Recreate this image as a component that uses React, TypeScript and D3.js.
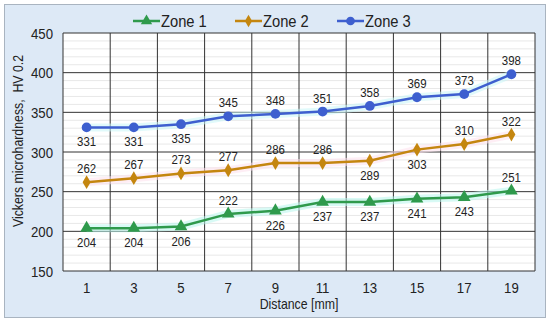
import React from 'react';
import * as d3 from 'd3';

const distances = [1, 3, 5, 7, 9, 11, 13, 15, 17, 19];
const zone1 = [204, 204, 206, 222, 226, 237, 237, 241, 243, 251];
const zone2 = [262, 267, 273, 277, 286, 286, 289, 303, 310, 322];
const zone3 = [331, 331, 335, 345, 348, 351, 358, 369, 373, 398];
// label position: 1 = above the point, -1 = below
const zone1Pos = [-1, -1, -1, 1, -1, -1, -1, -1, -1, 1];
const zone2Pos = [1, 1, 1, 1, 1, 1, -1, -1, 1, 1];
const zone3Pos = [-1, -1, -1, 1, 1, 1, 1, 1, 1, 1];
const yTicks = [150, 200, 250, 300, 350, 400, 450];

const W = 550;
const H = 324;
const M = { left: 63, right: 15, top: 33, bottom: 53 };

const series = [
  { name: 'Zone 1', values: zone1, pos: zone1Pos, color: '#2f9a4c', shape: d3.symbolTriangle, size: 70, glow: '#b8f5ec' },
  { name: 'Zone 2', values: zone2, pos: zone2Pos, color: '#c4860f', shape: d3.symbolDiamond, size: 55, glow: '#fde0ec' },
  { name: 'Zone 3', values: zone3, pos: zone3Pos, color: '#3e5fcf', shape: d3.symbolCircle, size: 75, glow: '#c9f6f8' },
];

// text a little narrower than it is tall, as in the (stretched) original
const T = ({ x, y, size, anchor = 'middle', sx = 0.88, children, rotate = 0 }: any) => (
  <text
    transform={`translate(${x} ${y}) rotate(${rotate}) scale(${sx} 1)`}
    textAnchor={anchor}
    fontSize={size}
    fill="#222"
    style={{ whiteSpace: 'pre' }}
  >
    {children}
  </text>
);

export default function App() {
  const x = d3
    .scaleBand<number>()
    .domain(distances)
    .range([M.left, W - M.right]);
  const y = d3.scaleLinear().domain([150, 450]).range([H - M.bottom, M.top]);
  const cx = (d: number) => (x(d) ?? 0) + x.bandwidth() / 2;

  const line = d3
    .line<number>()
    .x((_, i) => cx(distances[i]))
    .y(d => y(d));

  const minor = d3.range(150, 451, 10).filter(v => v % 50 !== 0);
  const bounds = [...distances.map(d => x(d) ?? 0), W - M.right];
  const font = 'Liberation Sans, Arial, sans-serif';

  const legendX = [133, 235, 337];

  return (
    <svg width={W} height={H} style={{ position: 'absolute', left: 0, top: 0 }} fontFamily={font}>
      <rect x={0} y={0} width={W} height={H} fill="#ffffff" />
      <rect x={4.5} y={4.5} width={541} height={313} fill="#dde9f6" stroke="#a9b4c0" />
      <rect x={M.left} y={M.top} width={W - M.left - M.right} height={H - M.top - M.bottom} fill="#ffffff" />

      {minor.map(v => (
        <line key={'m' + v} x1={M.left} x2={W - M.right} y1={y(v)} y2={y(v)} stroke="#e8e8e8" strokeWidth={1} />
      ))}
      {yTicks.map(v => (
        <line key={'g' + v} x1={M.left} x2={W - M.right} y1={y(v)} y2={y(v)} stroke="#333" strokeWidth={1} />
      ))}
      {bounds.map((b, i) => (
        <line key={'v' + i} x1={b} x2={b} y1={M.top} y2={H - M.bottom} stroke="#333" strokeWidth={1} />
      ))}

      {yTicks.map(v => (
        <T key={'t' + v} x={M.left - 10} y={y(v) + 5.5} size={15} anchor="end">
          {v}
        </T>
      ))}
      {distances.map(d => (
        <T key={'x' + d} x={cx(d)} y={H - M.bottom + 22} size={15}>
          {d}
        </T>
      ))}
      <T x={299} y={309} size={14}>Distance [mm]</T>
      <T x={23} y={141} size={14} rotate={-90}>Vickers microhardness,  HV 0.2</T>

      {series.map(s => (
        <path key={'glow' + s.name} d={line(s.values) ?? ''} fill="none" stroke={s.glow} strokeWidth={8} opacity={0.55} />
      ))}
      {series.map(s => (
        <g key={s.name}>
          <path d={line(s.values) ?? ''} fill="none" stroke={s.color} strokeWidth={2.5} />
          {s.values.map((v, i) => (
            <path
              key={i}
              d={d3.symbol().type(s.shape).size(s.size)() ?? ''}
              transform={`translate(${cx(distances[i])} ${y(v)})`}
              fill={s.color}
            />
          ))}
          {s.values.map((v, i) => (
            <T key={'l' + i} x={cx(distances[i])} y={y(v) + (s.pos[i] > 0 ? -9 : 19)} size={13}>
              {v}
            </T>
          ))}
        </g>
      ))}

      {series.map((s, i) => (
        <g key={'leg' + s.name} transform={`translate(${legendX[i]} 21)`}>
          <line x1={0} x2={27} y1={0} y2={0} stroke={s.color} strokeWidth={2.5} />
          <path d={d3.symbol().type(s.shape).size(s.size * 0.8)() ?? ''} transform="translate(13.5 0)" fill={s.color} />
          <T x={28} y={6} size={16} anchor="start" sx={0.92}>{s.name}</T>
        </g>
      ))}
    </svg>
  );
}
